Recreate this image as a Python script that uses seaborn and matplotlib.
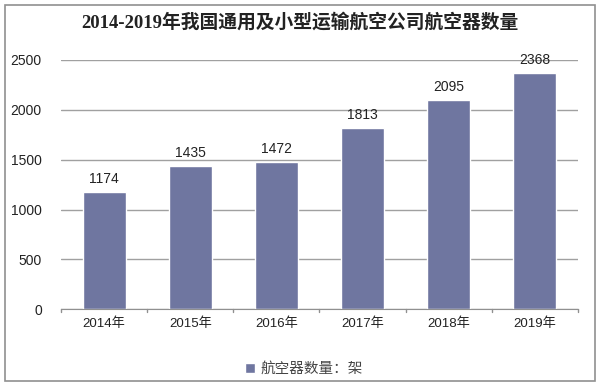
import pandas as pd
import numpy as np
import seaborn as sns
import matplotlib.pyplot as plt
from matplotlib.patches import Rectangle

# data
years = ['2014年', '2015年', '2016年', '2017年', '2018年', '2019年']
counts = [1174, 1435, 1472, 1813, 2095, 2368]
series_name = '航空器数量：架'

df = pd.DataFrame({'year': years, 'count': counts})

sns.set_style('white')
plt.rcParams['font.family'] = ['Liberation Sans', 'Noto Sans CJK SC', 'DejaVu Sans']

fig = plt.figure(figsize=(6, 3.87), dpi=100)
ax = fig.add_axes([0.102, 0.201, 0.861, 0.644])

bar_color = '#6f76a0'
sns.barplot(data=df, x='year', y='count', color=bar_color, width=0.5,
            saturation=1, ax=ax, label=series_name)

ax.set_ylim(0, 2500)
ax.set_yticks(np.arange(0, 2501, 500))
ax.set_xlim(-0.5, 5.5)
ax.yaxis.grid(True, color='#a0a0a0', linewidth=1)
ax.set_axisbelow(True)
for s in ['top', 'right', 'left']:
    ax.spines[s].set_visible(False)
ax.spines['bottom'].set_color('#909090')
ax.set_xlabel('')
ax.set_ylabel('')
ax.tick_params(axis='y', length=0, labelsize=10, colors='#222222', pad=14)
ax.tick_params(axis='x', length=0, labelsize=9.5, colors='#222222', pad=6)
# small tick marks between categories
for b in np.arange(-0.5, 6, 1):
    ax.plot([b, b], [0, -30], color='#909090', lw=1, clip_on=False)

for i, v in enumerate(counts):
    ax.text(i, v + 60, str(v), ha='center', va='bottom', fontsize=10, color='#222222')

fig.text(0.5, 0.943, '2014-2019年我国通用及小型运输航空公司航空器数量', ha='center',
         va='center', fontsize=13.5, fontweight='bold', color='#222222',
         family=['Liberation Serif', 'Noto Sans CJK SC'])

leg = ax.legend(loc='center', bbox_to_anchor=(0.47, -0.24), frameon=False,
                prop={'family': ['Noto Sans CJK SC'], 'size': 10.5},
                handlelength=0.7, handleheight=0.7, handletextpad=0.4)
for t in leg.get_texts():
    t.set_color('#444444')

fig.patches.append(Rectangle((0.008, 0.015), 0.984, 0.972, transform=fig.transFigure,
                             fill=False, edgecolor='#909090', linewidth=1.2))

fig.savefig('out.png', dpi=100)
